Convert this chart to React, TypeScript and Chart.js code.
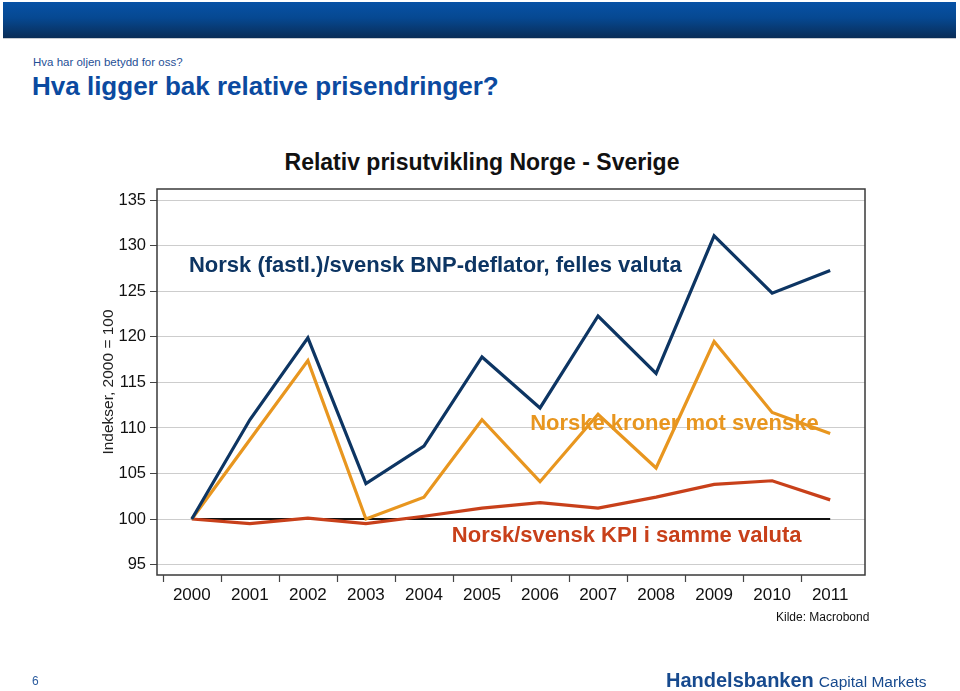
import React, { useEffect, useRef } from "react";
import { Chart, registerables } from "chart.js";

Chart.register(...registerables);

const YEARS = [2000, 2001, 2002, 2003, 2004, 2005, 2006, 2007, 2008, 2009, 2010, 2011];
const BNP_DEFLATOR = [100, 110.9, 119.9, 103.9, 108.0, 117.8, 112.2, 122.3, 116.0, 131.1, 124.8, 127.3];
const NOK_SEK = [100, 108.7, 117.4, 100.0, 102.4, 110.9, 104.1, 111.5, 105.6, 119.5, 111.7, 109.4];
const KPI = [100, 99.5, 100.1, 99.5, 100.3, 101.2, 101.8, 101.2, 102.4, 103.8, 104.2, 102.1];
const BASELINE = [100, 100, 100, 100, 100, 100, 100, 100, 100, 100, 100, 100];
const Y_TICKS = [95, 100, 105, 110, 115, 120, 125, 130, 135];

const LABEL_BNP = "Norsk (fastl.)/svensk BNP-deflator, felles valuta";
const LABEL_NOK = "Norske kroner mot svenske";
const LABEL_KPI = "Norsk/svensk KPI i samme valuta";

const BLUE = "#0d3563";
const ORANGE = "#e8961f";
const RED = "#c8401a";
const FONT = '"Liberation Sans", Arial, Helvetica, sans-serif';

const ANNOTATIONS = [
  { text: LABEL_BNP, x: 1999.95, y: 127.8, color: BLUE },
  { text: LABEL_NOK, x: 2005.83, y: 110.45, color: ORANGE },
  { text: LABEL_KPI, x: 2004.48, y: 98.1, color: RED },
];

const toPoints = (vals: number[]) => vals.map((v, i) => ({ x: YEARS[i], y: v }));

const framePlugin = {
  id: "frameAndNotes",
  beforeDatasetsDraw(chart: any) {
    const { ctx, chartArea } = chart;
    const xs = chart.scales.x;
    ctx.save();
    ctx.strokeStyle = "#3a3a3a";
    ctx.lineWidth = 1.5;
    ctx.strokeRect(chartArea.left, chartArea.top, chartArea.right - chartArea.left, chartArea.bottom - chartArea.top);
    ctx.lineWidth = 1.2;
    ctx.strokeStyle = "#444";
    for (let i = 0; i < YEARS.length; i++) {
      const px = Math.round(xs.getPixelForValue(YEARS[i] - 0.5)) + 0.5;
      ctx.beginPath();
      ctx.moveTo(px, chartArea.bottom);
      ctx.lineTo(px, chartArea.bottom + 7);
      ctx.stroke();
    }
    ctx.restore();
  },
  afterDatasetsDraw(chart: any) {
    const { ctx } = chart;
    const xs = chart.scales.x;
    const ys = chart.scales.y;
    ctx.save();
    ctx.font = `bold 22px ${FONT}`;
    ctx.textAlign = "left";
    ctx.textBaseline = "middle";
    for (const a of ANNOTATIONS) {
      ctx.fillStyle = a.color;
      ctx.fillText(a.text, xs.getPixelForValue(a.x), ys.getPixelForValue(a.y));
    }
    ctx.restore();
  },
};

function ChartCanvas() {
  const ref = useRef<HTMLCanvasElement | null>(null);
  useEffect(() => {
    if (!ref.current) return;
    const lineDs = (label: string, data: number[], color: string, width: number) => ({
      label,
      data: toPoints(data),
      borderColor: color,
      backgroundColor: color,
      borderWidth: width,
      pointRadius: 0,
      tension: 0,
      borderJoinStyle: "miter" as const,
      borderCapStyle: "butt" as const,
      fill: false,
    });
    const chart = new Chart(ref.current, {
      type: "line",
      data: {
        datasets: [
          lineDs(LABEL_BNP, BNP_DEFLATOR, BLUE, 3.2),
          lineDs(LABEL_NOK, NOK_SEK, ORANGE, 3.2),
          lineDs(LABEL_KPI, KPI, RED, 3.2),
          lineDs("Basis", BASELINE, "#111111", 2),
        ],
      },
      options: {
        animation: false,
        responsive: false,
        devicePixelRatio: 1,
        layout: { padding: { left: 97, top: 189, right: 95, bottom: 76 } },
        plugins: { legend: { display: false }, tooltip: { enabled: false }, title: { display: false } },
        scales: {
          x: {
            type: "linear",
            min: 1999.4,
            max: 2011.6,
            afterBuildTicks: (s: any) => {
              s.ticks = YEARS.map((v) => ({ value: v }));
            },
            afterFit: (s: any) => {
              s.height = 40;
            },
            grid: { display: false },
            border: { display: false },
            ticks: {
              autoSkip: false,
              maxRotation: 0,
              padding: 2,
              color: "#111",
              font: { family: FONT, size: 17 },
              callback: (v: any) => String(v),
            },
          },
          y: {
            type: "linear",
            min: 93.85,
            max: 136.25,
            afterBuildTicks: (s: any) => {
              s.ticks = Y_TICKS.map((v) => ({ value: v }));
            },
            afterFit: (s: any) => {
              s.width = 60;
            },
            grid: { color: "#cdcdcd", lineWidth: 1, tickColor: "#444", tickLength: 7, drawTicks: true },
            border: { display: false },
            ticks: {
              padding: 4,
              color: "#111",
              font: { family: FONT, size: 16.5 },
              callback: (v: any) => String(v),
            },
            title: {
              display: true,
              text: "Indekser, 2000 = 100",
              color: "#222",
              font: { family: FONT, size: 15.5 },
              padding: { top: 2, bottom: 2 },
            },
          },
        },
      },
      plugins: [framePlugin],
    } as any);
    return () => chart.destroy();
  }, []);
  return <canvas ref={ref} width={960} height={691} style={{ position: "absolute", left: 0, top: 0, width: 960, height: 691 }} />;
}

export default function App() {
  return (
    <div style={{ position: "absolute", left: 0, top: 0, width: 960, height: 691, background: "#fff", overflow: "hidden", fontFamily: FONT }}>
      <div
        style={{
          position: "absolute",
          left: 3,
          top: 2,
          width: 953,
          height: 36,
          background: "linear-gradient(to bottom, #0752a6 0%, #064891 45%, #0a2d57 100%)",
        }}
      />
      <div style={{ position: "absolute", left: 3, top: 38, width: 953, height: 1, background: "#c8ccd2" }} />
      <div style={{ position: "absolute", left: 33, top: 54, fontSize: 11.5, lineHeight: "16px", color: "#1f4f96", whiteSpace: "nowrap" }}>
        Hva har oljen betydd for oss?
      </div>
      <div style={{ position: "absolute", left: 32, top: 71, fontSize: 26, lineHeight: "31px", fontWeight: "bold", color: "#0b4aa0", whiteSpace: "nowrap" }}>
        Hva ligger bak relative prisendringer?
      </div>
      <div style={{ position: "absolute", left: 0, width: 964, top: 148, textAlign: "center", fontSize: 23, lineHeight: "28px", fontWeight: "bold", color: "#111", whiteSpace: "nowrap" }}>
        Relativ prisutvikling Norge - Sverige
      </div>
      <ChartCanvas />
      <div style={{ position: "absolute", left: 776, top: 610, fontSize: 12, lineHeight: "15px", color: "#111", whiteSpace: "nowrap" }}>
        Kilde: Macrobond
      </div>
      <div style={{ position: "absolute", left: 32, top: 674, fontSize: 12, lineHeight: "15px", color: "#2b5c9e" }}>6</div>
      <div style={{ position: "absolute", left: 666, top: 668, whiteSpace: "nowrap", color: "#174a8e", lineHeight: "24px" }}>
        <span style={{ fontSize: 20, fontWeight: "bold" }}>Handelsbanken</span>
        <span style={{ fontSize: 15.5, marginLeft: 5 }}>Capital Markets</span>
      </div>
    </div>
  );
}
